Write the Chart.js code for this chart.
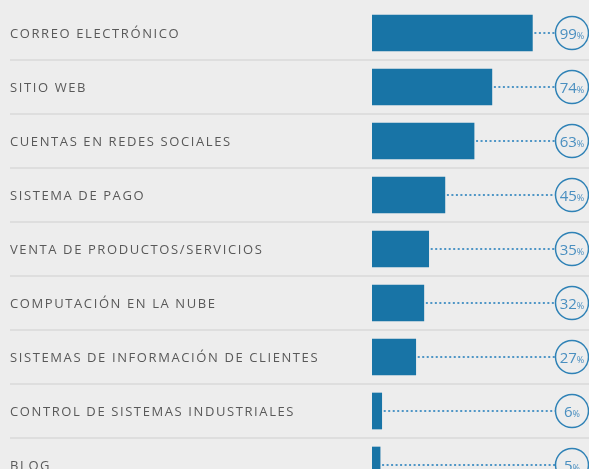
<!DOCTYPE html>
<html>
<head>
<meta charset="utf-8">
<script src="https://cdn.jsdelivr.net/npm/chart.js@4"></script>
<style>
  html, body { margin: 0; padding: 0; background: #ededed; overflow: hidden; }
  #wrap { width: 589px; height: 500px; position: relative; }
</style>
</head>
<body>
<div id="wrap"><canvas id="chart"></canvas></div>
<script>
// datos
const categorias = [
  "CORREO ELECTRÓNICO",
  "SITIO WEB",
  "CUENTAS EN REDES SOCIALES",
  "SISTEMA DE PAGO",
  "VENTA DE PRODUCTOS/SERVICIOS",
  "COMPUTACIÓN EN LA NUBE",
  "SISTEMAS DE INFORMACIÓN DE CLIENTES",
  "CONTROL DE SISTEMAS INDUSTRIALES",
  "BLOG"
];
const porcentajes = [99, 74, 63, 45, 35, 32, 27, 6, 5];

const AZUL = "#1874a6";

// separadores, etiquetas, líneas punteadas y círculos
const decoracion = {
  id: "decoracion",
  beforeDatasetsDraw(chart) {
    const ctx = chart.ctx;
    const y = chart.scales.y;
    ctx.save();
    // separadores entre filas
    ctx.strokeStyle = "#dedede";
    ctx.lineWidth = 2;
    for (let i = 0; i < categorias.length - 1; i++) {
      const yy = (y.getPixelForValue(i) + y.getPixelForValue(i + 1)) / 2;
      ctx.beginPath();
      ctx.moveTo(10, yy);
      ctx.lineTo(chart.width, yy);
      ctx.stroke();
    }
    // etiquetas
    ctx.fillStyle = "#595959";
    ctx.font = "13px 'Open Sans'";
    ctx.letterSpacing = "1.6px";
    ctx.textBaseline = "middle";
    ctx.textAlign = "left";
    categorias.forEach((c, i) => ctx.fillText(c, 10, y.getPixelForValue(i) + 1));
    ctx.restore();
  },
  afterDatasetsDraw(chart) {
    const ctx = chart.ctx;
    const meta = chart.getDatasetMeta(0);
    const cx = 572, r = 16.5;
    ctx.save();
    meta.data.forEach((bar, i) => {
      const yy = bar.y;
      // línea punteada
      ctx.strokeStyle = "#4f96c6";
      ctx.lineWidth = 2;
      ctx.setLineDash([2, 2.5]);
      ctx.beginPath();
      ctx.moveTo(bar.x + 2, yy);
      ctx.lineTo(cx - r, yy);
      ctx.stroke();
      ctx.setLineDash([]);
      // círculo
      ctx.strokeStyle = "#2f82b6";
      ctx.lineWidth = 1.5;
      ctx.beginPath();
      ctx.arc(cx, yy, r, 0, Math.PI * 2);
      ctx.stroke();
      // texto
      const num = String(porcentajes[i]);
      ctx.font = "15px 'Open Sans'";
      const w1 = ctx.measureText(num).width;
      ctx.font = "9px 'Open Sans'";
      const w2 = ctx.measureText("%").width;
      const x0 = cx - (w1 + w2) / 2;
      ctx.fillStyle = "#4a8fc0";
      ctx.textAlign = "left";
      ctx.textBaseline = "alphabetic";
      ctx.font = "15px 'Open Sans'";
      ctx.fillText(num, x0, yy + 6);
      ctx.font = "9px 'Open Sans'";
      ctx.fillText("%", x0 + w1, yy + 6);
    });
    ctx.restore();
  }
};

new Chart(document.getElementById("chart"), {
  type: "bar",
  data: {
    labels: categorias,
    datasets: [{
      data: porcentajes,
      backgroundColor: AZUL,
      barThickness: 36
    }]
  },
  options: {
    indexAxis: "y",
    responsive: true,
    maintainAspectRatio: false,
    animation: false,
    layout: { padding: { left: 372, right: 55, top: 6, bottom: 8 } },
    plugins: { legend: { display: false }, tooltip: { enabled: false } },
    scales: {
      x: { min: 0, max: 100, display: false },
      y: { display: false }
    }
  },
  plugins: [decoracion]
});
</script>
</body>
</html>
